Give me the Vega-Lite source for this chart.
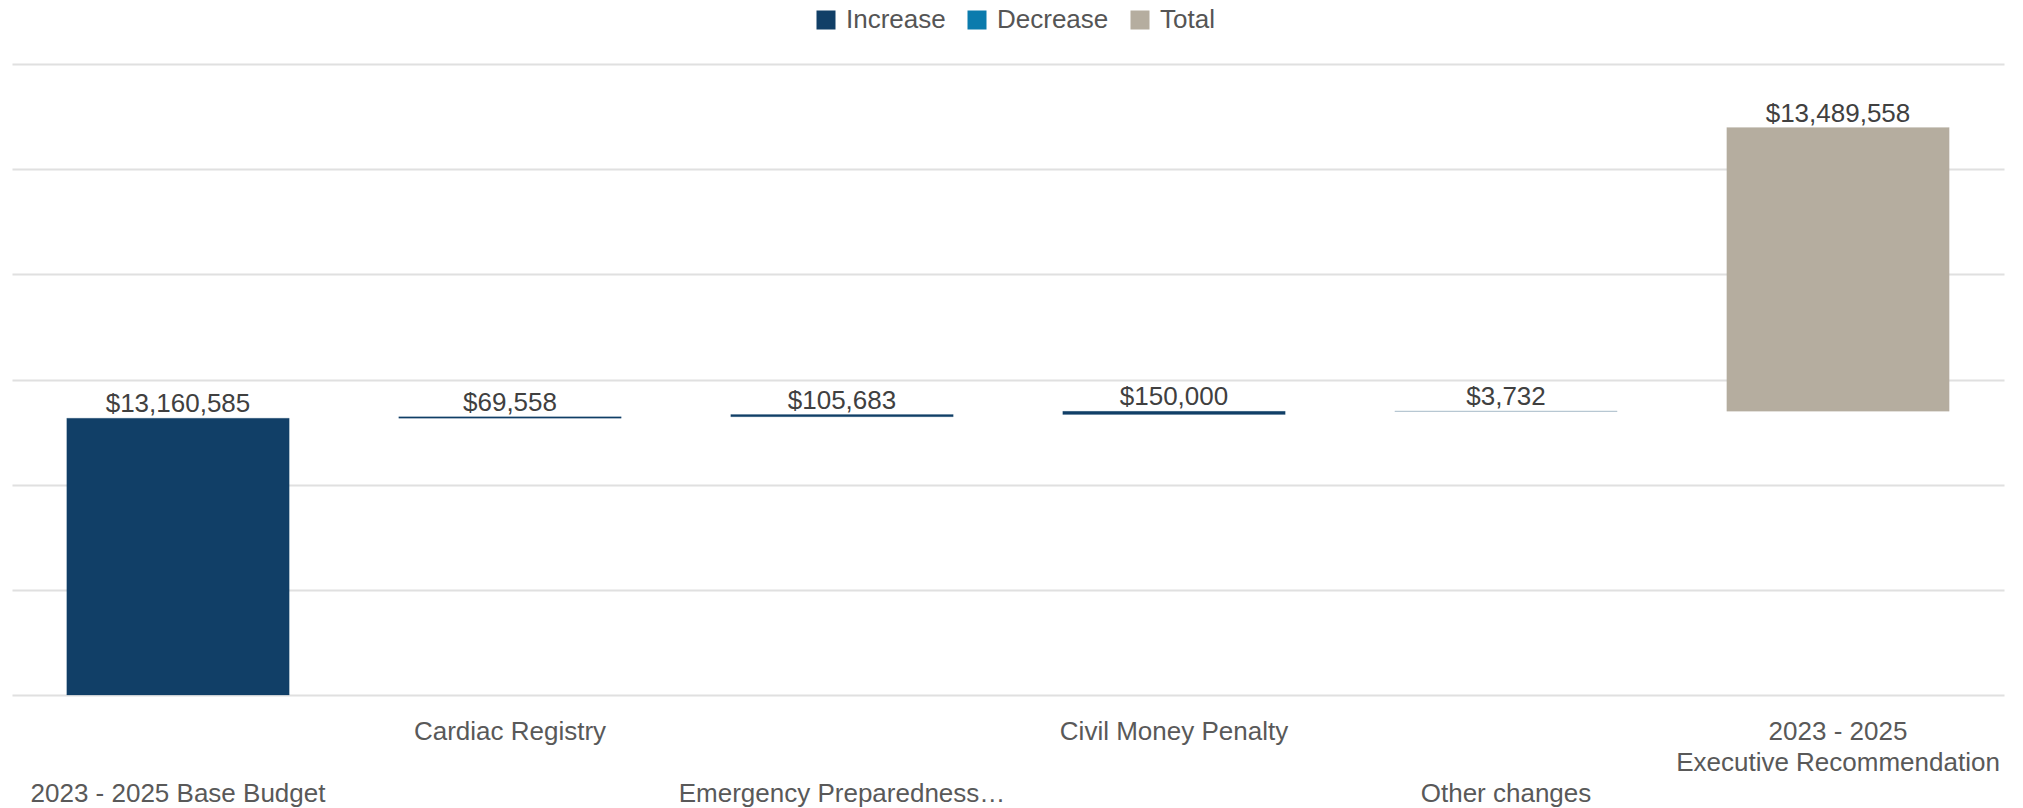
{
  "$schema": "https://vega.github.io/schema/vega-lite/v6.json",
  "width": 1992,
  "height": 631,
  "autosize": {"type": "none"},
  "padding": {"left": 12, "top": 64, "right": 19, "bottom": 113},
  "background": "white",
  "config": {"view": {"stroke": null}, "font": "Liberation Sans"},
  "data": {
    "values": [
      {"category": "2023 - 2025 Base Budget", "type": "Increase", "start": 0, "end": 13160585, "amount": 13160585},
      {"category": "Cardiac Registry", "type": "Increase", "start": 13160585, "end": 13230143, "amount": 69558},
      {"category": "Emergency Preparedness…", "type": "Increase", "start": 13230143, "end": 13335826, "amount": 105683},
      {"category": "Civil Money Penalty", "type": "Increase", "start": 13335826, "end": 13485826, "amount": 150000},
      {"category": "Other changes", "type": "Increase", "start": 13485826, "end": 13489558, "amount": 3732},
      {"category": "2023 - 2025 Executive Recommendation", "type": "Total", "start": 13489558, "end": 26979116, "amount": 13489558}
    ]
  },
  "encoding": {
    "x": {
      "field": "category",
      "type": "nominal",
      "sort": null,
      "scale": {"paddingInner": 0.33, "paddingOuter": 0.165},
      "axis": {
        "title": null,
        "domain": false,
        "ticks": false,
        "grid": false,
        "labelAngle": 0,
        "labelFont": "Liberation Sans",
        "labelFontSize": 26,
        "labelColor": "#595959",
        "labelPadding": {
          "condition": {"test": "datum.value == '2023 - 2025 Base Budget' || datum.value == 'Emergency Preparedness…' || datum.value == 'Other changes'", "value": 85},
          "value": 23
        },
        "labelLineHeight": 31,
        "labelLimit": 600,
        "labelBaseline": "top",
        "labelOverlap": false,
        "labelBound": false,
        "labelExpr": "datum.value == '2023 - 2025 Executive Recommendation' ? ['2023 - 2025', 'Executive Recommendation'] : datum.label"
      }
    }
  },
  "layer": [
    {
      "mark": {"type": "bar", "strokeWidth": 1, "strokeOpacity": 0.2},
      "encoding": {
        "y": {
          "field": "start",
          "type": "quantitative",
          "scale": {"domain": [0, 30000000], "nice": false},
          "axis": {
            "title": null,
            "labels": false,
            "ticks": false,
            "domain": false,
            "grid": true,
            "gridColor": "#e0e0e0",
            "gridWidth": 2,
            "values": [0, 5000000, 10000000, 15000000, 20000000, 25000000, 30000000]
          }
        },
        "y2": {"field": "end"},
        "stroke": {
          "field": "type",
          "type": "nominal",
          "scale": {"domain": ["Increase", "Decrease", "Total"], "range": ["#113f67", "#0b7bad", "#b5ad9f"]},
          "legend": null
        },
        "color": {
          "field": "type",
          "type": "nominal",
          "scale": {"domain": ["Increase", "Decrease", "Total"], "range": ["#113f67", "#0b7bad", "#b5ad9f"]},
          "legend": {
            "title": null,
            "orient": "none",
            "legendX": 801,
            "legendY": -57,
            "direction": "horizontal",
            "symbolType": "square",
            "symbolSize": 361,
            "symbolStrokeWidth": 0,
            "labelFont": "Liberation Sans",
            "labelFontSize": 26,
            "labelColor": "#555555",
            "labelOffset": 7,
            "columnPadding": 18
          }
        }
      }
    },
    {
      "mark": {"type": "text", "baseline": "alphabetic", "dy": -6, "fontSize": 26, "color": "#404040", "font": "Liberation Sans"},
      "encoding": {
        "y": {"field": "end", "type": "quantitative"},
        "text": {"field": "amount", "type": "quantitative", "format": "$,.0f"}
      }
    }
  ]
}
